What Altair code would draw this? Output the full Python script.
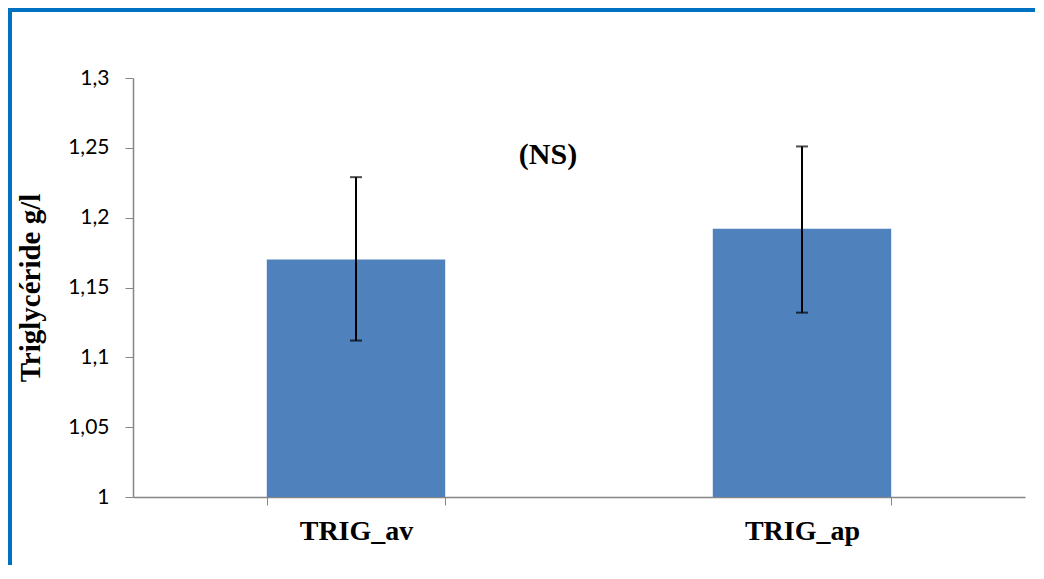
import altair as alt
import pandas as pd

categories = ["TRIG_av", "TRIG_ap"]
means = [1.170, 1.192]
err_low = [1.112, 1.132]
err_high = [1.229, 1.251]
annotation_text = ["(NS)"]
annotation_y = [1.245]
y_ticks = [1.0, 1.05, 1.1, 1.15, 1.2, 1.25, 1.3]

df = pd.DataFrame({"cat": categories, "mean": means, "lo": err_low, "hi": err_high})
ann = pd.DataFrame({"cat": [categories[0]], "y": annotation_y, "t": annotation_text})

x_enc = alt.X(
    "cat:N",
    sort=categories,
    scale=alt.Scale(paddingInner=0.6, paddingOuter=0.3),
    axis=alt.Axis(
        title=None,
        tickBand="extent",
        labelFont="Liberation Serif",
        labelFontWeight="bold",
        labelFontSize=28,
        labelColor="#000000",
        labelPadding=12,
        labelAngle=0,
        tickSize=8,
        domainColor="#868686",
        tickColor="#868686",
        domainWidth=1.5,
    ),
)

y_scale = alt.Scale(domain=[1.0, 1.3], nice=False, zero=False)

bars = alt.Chart(df).mark_bar(color="#4F81BD").encode(
    x=x_enc,
    y=alt.Y(
        "mean:Q",
        scale=y_scale,
        axis=alt.Axis(
            title="Triglycéride g/l",
            titleFont="Liberation Serif",
            titleFontWeight="bold",
            titleFontSize=29,
            titleColor="#000000",
            titlePadding=22,
            values=y_ticks,
            labelExpr="replace(format(datum.value, '.2~f'), '.', ',')",
            labelFont="Lato",
            labelFontSize=21,
            labelColor="#000000",
            labelPadding=16,
            tickSize=8,
            grid=False,
            domainColor="#868686",
            tickColor="#868686",
            domainWidth=1.5,
        ),
    ),
    y2=alt.datum(1.0),
)

rules = alt.Chart(df).mark_rule(color="#000000", strokeWidth=2).encode(
    x=alt.X("cat:N", sort=categories),
    y=alt.Y("lo:Q", scale=y_scale),
    y2="hi:Q",
)
cap_lo = alt.Chart(df).mark_tick(color="#000000", thickness=2, size=12, orient="horizontal").encode(
    x=alt.X("cat:N", sort=categories),
    y=alt.Y("lo:Q", scale=y_scale),
)
cap_hi = alt.Chart(df).mark_tick(color="#000000", thickness=2, size=12, orient="horizontal").encode(
    x=alt.X("cat:N", sort=categories),
    y=alt.Y("hi:Q", scale=y_scale),
)

note = alt.Chart(ann).mark_text(
    font="Liberation Serif", fontWeight="bold", fontSize=30, color="#000000", dx=192
).encode(
    x=alt.X("cat:N", sort=categories),
    y=alt.Y("y:Q", scale=y_scale),
    text="t:N",
)

frame_top = alt.Chart(ann).mark_rule(color="#0070C0", strokeWidth=4).encode(
    x=alt.value(-125), x2=alt.value(905), y=alt.value(-68)
)
frame_left = alt.Chart(ann).mark_rule(color="#0070C0", strokeWidth=4).encode(
    x=alt.value(-123), y=alt.value(-70), y2=alt.value(495)
)

chart = (
    alt.layer(bars, rules, cap_lo, cap_hi, note, frame_top, frame_left)
    .properties(
        width=892,
        height=419,
        autosize=alt.AutoSizeParams(type="none"),
        padding={"left": 125, "top": 70, "right": 10, "bottom": 68},
        background="white",
    )
    .configure_view(stroke="transparent", strokeWidth=0)
)

chart.save("out.html", embed_options={"renderer": "svg", "actions": False})
